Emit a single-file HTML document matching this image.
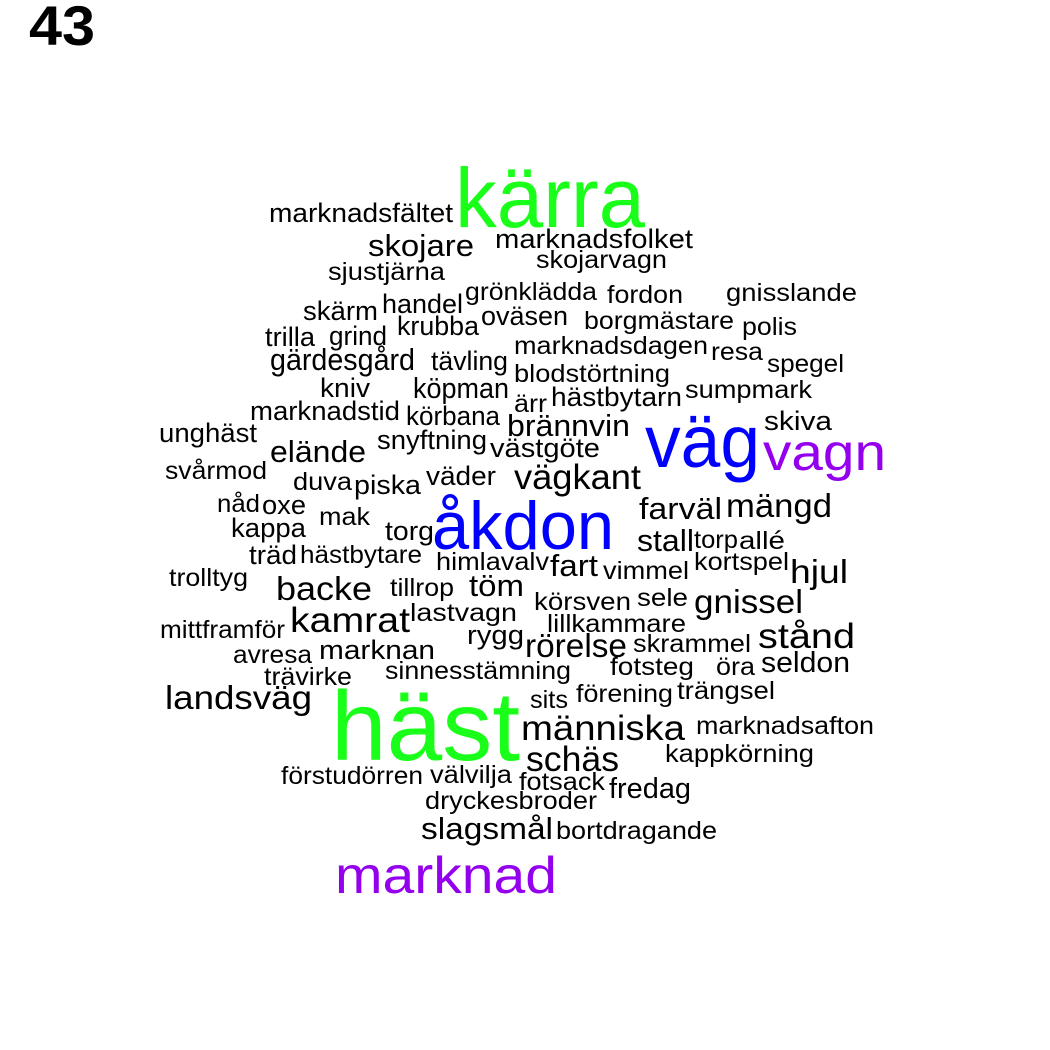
<!DOCTYPE html>
<html><head><meta charset="utf-8"><style>
html,body{margin:0;padding:0;background:#fff;}
svg{display:block;font-family:"Liberation Sans",Arial,sans-serif;}
</style></head><body>
<svg id="cloud" width="1050" height="1050" viewBox="0 0 1050 1050">
<rect width="1050" height="1050" fill="#fff"/>
<text x="29" y="45" font-size="56" font-weight="bold" fill="#000" textLength="66" lengthAdjust="spacingAndGlyphs">43</text>
<g id="words"></g>
</svg>
<script>
const words = ["marknadsfältet","kärra","skojare","marknadsfolket","skojarvagn","sjustjärna","grönklädda","fordon","gnisslande","skärm","handel","oväsen","borgmästare","polis","trilla","grind","krubba","marknadsdagen","resa","gärdesgård","tävling","spegel","blodstörtning","kniv","köpman","sumpmark","marknadstid","ärr","hästbytarn","körbana","skiva","unghäst","brännvin","väg","vagn","snyftning","västgöte","elände","svårmod","duva","piska","väder","vägkant","nåd","oxe","åkdon","farväl","mängd","kappa","mak","torg","träd","hästbytare","himlavalv","fart","stall","torp","allé","vimmel","kortspel","hjul","trolltyg","backe","tillrop","töm","körsven","sele","gnissel","lastvagn","kamrat","lillkammare","mittframför","rygg","rörelse","skrammel","stånd","avresa","marknan","sinnesstämning","fotsteg","öra","seldon","trävirke","landsväg","häst","sits","förening","trängsel","människa","marknadsafton","schäs","kappkörning","förstudörren","välvilja","fotsack","fredag","dryckesbroder","slagsmål","bortdragande","marknad"];
const sizes = [27,84,31,27,25,25,25,25,25,27,27,27,25,25,27,27,27,25,25,31,27,25,25,27,29,25,27,25,27,27,27,27,31,74,52,27,27,31,25,25,27,27,35,25,27,68,31,33,27,25,27,27,25,25,31,31,25,25,25,25,33,25,33,25,31,25,25,33,25,35,25,25,27,33,25,35,25,27,25,25,25,29,25,33,98,25,25,25,35,25,35,25,25,25,25,29,25,31,25,52];
const colors = {"kärra":"#1AFF1A","häst":"#1AFF1A","väg":"#0000FF","åkdon":"#0000FF","vagn":"#9400EE","marknad":"#9400EE"};
const xLeft = [269,455,368,495,536,328,465,607,726,303,382,481,584,742,265,329,397,514,711,270,431,767,514,320,413,685,250,514,551,406,764,159,507,645,763,377,490,270,165,293,354,426,514,217,262,432,639,726,231,319,385,249,300,436,550,637,694,739,603,694,790,169,276,390,469,534,637,694,410,290,547,160,467,525,633,758,233,319,385,610,716,761,264,165,331,530,576,677,521,696,526,665,281,430,519,609,425,421,556,335];
const xRight = [453,645,474,693,667,445,597,683,857,378,463,568,734,797,315,387,479,708,763,415,508,844,670,370,509,812,400,547,682,500,832,257,630,760,886,487,600,366,267,352,421,496,641,260,306,614,722,832,306,370,434,297,422,549,598,694,738,785,689,789,848,248,372,454,524,631,688,803,517,410,686,285,524,627,751,855,312,435,571,694,755,850,352,312,520,568,673,775,685,874,619,814,423,512,605,691,597,553,717,557];
const baseY = [222,227,256,248,268,280,300,303,301,320,313,325,329,335,346,345,335,354,360,370,370,372,382,397,398,398,420,412,406,425,430,442,436,467,470,449,457,462,479,490,494,485,489,512,514,549,519,517,537,525,540,564,563,570,576,551,548,549,579,570,583,586,600,596,596,610,606,613,621,632,632,638,644,657,652,648,663,659,679,675,675,672,685,709,760,708,702,699,740,734,771,762,784,783,790,798,809,839,839,893];
const g = document.getElementById('words');
const NS = 'http://www.w3.org/2000/svg';
for (let i = 0; i < words.length; i++) {
  const t = document.createElementNS(NS, 'text');
  t.setAttribute('x', xLeft[i]);
  t.setAttribute('y', baseY[i]);
  t.setAttribute('font-size', sizes[i]);
  t.setAttribute('fill', colors[words[i]] || '#000');
  t.setAttribute('textLength', xRight[i] - xLeft[i]);
  t.setAttribute('lengthAdjust', 'spacingAndGlyphs');
  t.textContent = words[i];
  
  
  g.appendChild(t);
}
</script>
</body></html>
